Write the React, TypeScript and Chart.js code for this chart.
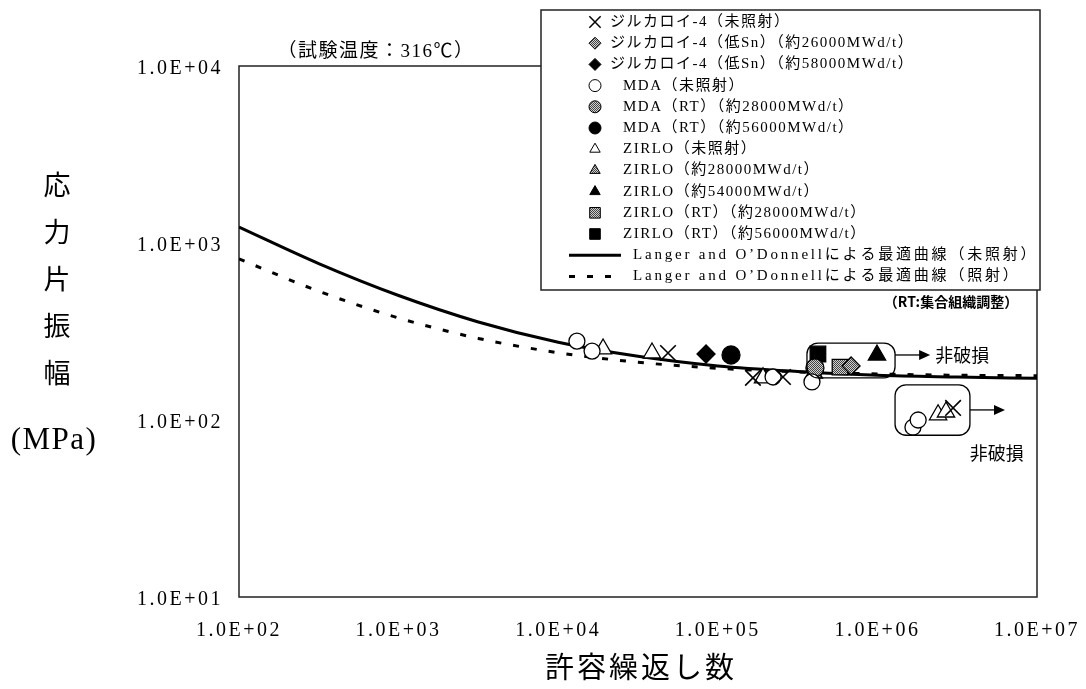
import React, { useEffect, useRef } from 'react';
import { Chart, registerables } from 'chart.js';
import { drawPoint } from 'chart.js/helpers';

Chart.register(...registerables);

// ---- axis ticks ----
const xTickValues = [1e2, 1e3, 1e4, 1e5, 1e6, 1e7];
const yTickValues = [1e1, 1e2, 1e3, 1e4];
const xTickLabels = ['1.0E+02', '1.0E+03', '1.0E+04', '1.0E+05', '1.0E+06', '1.0E+07'];
const yTickLabels = ['1.0E+01', '1.0E+02', '1.0E+03', '1.0E+04'];

// ---- data series (N = allowable cycles, S = stress amplitude MPa) ----
const zr4UnirrN = [48750, 166000, 256000, 2980000];
const zr4UnirrS = [239, 173, 175, 117];
const zr4LowSn26N = [684000];
const zr4LowSn26S = [202];
const zr4LowSn58N = [84400];
const zr4LowSn58S = [236];
const mdaUnirrN = [13100, 16300, 222000, 389000, 1670000, 1800000];
const mdaUnirrS = [279, 245, 175, 164, 91, 100];
const mdaRt28N = [406000];
const mdaRt28S = [197];
const mdaRt56N = [121000];
const mdaRt56S = [233];
const zirloUnirrN = [19100, 38700, 192000, 2400000, 2690000];
const zirloUnirrS = [252, 239, 173, 107, 111];
const zirlo28N = [400000];
const zirlo28S = [184];
const zirlo54N = [994000];
const zirlo54S = [233];
const zirloRt28N = [583000];
const zirloRt28S = [199];
const zirloRt56N = [424000];
const zirloRt56S = [236];

// best-fit curves
const curveN = [1e2, 3.16e2, 1e3, 3.16e3, 1e4, 3.16e4, 1e5, 3.16e5, 1e6, 3.16e6, 1e7];
const curveUnirrS = [1230, 765, 505, 358, 275, 229, 202, 188, 179, 175, 172];
const curveIrrS = [813, 534, 377, 289, 240, 212, 196, 187, 182, 179, 178];

// non-failure annotations (data units)
const nonFailBoxX1 = [362000, 1290000];
const nonFailBoxX2 = [1290000, 3800000];
const nonFailBoxYTop = [272, 158];
const nonFailBoxYBottom = [173, 82];
const nonFailArrowY = [233, 114];
const nonFailArrowTo = [2140000, 6300000];
const nonFailLabelX = [2300000, 5600000];
const nonFailLabelY = [233, 65];
const nonFailLabelAlign: CanvasTextAlign[] = ['left', 'center'];
const nonFailLabel = '非破損';

const titleText = '（試験温度：316℃）';
const yTitleChars = ['応', '力', '片', '振', '幅'];
const yTitleUnit = '(MPa)';
const xTitleText = '許容繰返し数';
const rtNote = '（RT:集合組織調整）';

const zip = (xs: number[], ys: number[]) => xs.map((x, i) => ({ x, y: ys[i] }));

const SERIF = '"Liberation Serif", "Noto Sans CJK JP", serif';
const SANS = '"Noto Sans CJK JP", "Noto Sans", sans-serif';

function makePattern(): CanvasPattern | string {
  const c = document.createElement('canvas');
  c.width = 2;
  c.height = 2;
  const g = c.getContext('2d');
  if (!g) return '#999';
  g.fillStyle = '#d0d0d0';
  g.fillRect(0, 0, 2, 2);
  g.fillStyle = '#444';
  g.fillRect(0, 0, 1, 1);
  g.fillRect(1, 1, 1, 1);
  const p = g.createPattern(c, 'repeat');
  return p || '#999';
}

export default function App() {
  const ref = useRef<HTMLCanvasElement>(null);

  useEffect(() => {
    const canvas = ref.current;
    if (!canvas) return;
    const gray = makePattern();

    const pt = (label: string, data: any[], style: string, fill: any, radius: number, bw = 1.3) => ({
      type: 'scatter' as const,
      label,
      data,
      pointStyle: style,
      pointRadius: radius,
      pointHoverRadius: radius,
      pointBackgroundColor: fill,
      pointBorderColor: '#000',
      pointBorderWidth: bw,
      backgroundColor: fill,
      borderColor: '#000',
      showLine: false,
      order: 1,
    });

    const datasets: any[] = [
      pt('ジルカロイ-4（未照射）', zip(zr4UnirrN, zr4UnirrS), 'crossRot', 'rgba(0,0,0,0)', 11, 1.6),
      pt('ジルカロイ-4（低Sn）（約26000MWd/t）', zip(zr4LowSn26N, zr4LowSn26S), 'rectRot', gray, 9),
      pt('ジルカロイ-4（低Sn）（約58000MWd/t）', zip(zr4LowSn58N, zr4LowSn58S), 'rectRot', '#000', 9),
      pt('MDA（未照射）', zip(mdaUnirrN, mdaUnirrS), 'circle', '#fff', 8),
      pt('MDA（RT）（約28000MWd/t）', zip(mdaRt28N, mdaRt28S), 'circle', gray, 9),
      pt('MDA（RT）（約56000MWd/t）', zip(mdaRt56N, mdaRt56S), 'circle', '#000', 9),
      pt('ZIRLO（未照射）', zip(zirloUnirrN, zirloUnirrS), 'triangle', '#fff', 10),
      pt('ZIRLO（約28000MWd/t）', zip(zirlo28N, zirlo28S), 'triangle', gray, 10),
      pt('ZIRLO（約54000MWd/t）', zip(zirlo54N, zirlo54S), 'triangle', '#000', 10),
      pt('ZIRLO（RT）（約28000MWd/t）', zip(zirloRt28N, zirloRt28S), 'rect', gray, 11),
      pt('ZIRLO（RT）（約56000MWd/t）', zip(zirloRt56N, zirloRt56S), 'rect', '#000', 11),
      {
        type: 'line',
        label: 'Langer and O\u2019Donnellによる最適曲線（未照射）',
        data: zip(curveN, curveUnirrS),
        borderColor: '#000',
        borderWidth: 3,
        pointRadius: 0,
        cubicInterpolationMode: 'monotone',
        fill: false,
        order: 5,
      },
      {
        type: 'line',
        label: 'Langer and O\u2019Donnellによる最適曲線（照射）',
        data: zip(curveN, curveIrrS),
        borderColor: '#000',
        borderWidth: 3,
        borderDash: [6, 12],
        pointRadius: 0,
        cubicInterpolationMode: 'monotone',
        fill: false,
        order: 6,
      },
    ];

    const framePlugin = {
      id: 'frame',
      beforeDraw(chart: any) {
        const ctx = chart.ctx;
        ctx.save();
        ctx.fillStyle = '#fff';
        ctx.fillRect(0, 0, chart.width, chart.height);
        ctx.restore();
        ctx.letterSpacing = '2.5px';
      },
      beforeDatasetsDraw(chart: any) {
        const ctx = chart.ctx;
        ctx.letterSpacing = '0px';
        const a = chart.chartArea;
        ctx.save();
        ctx.strokeStyle = '#222';
        ctx.lineWidth = 1.5;
        ctx.strokeRect(a.left, a.top, a.right - a.left, a.bottom - a.top);
        ctx.restore();
      },
      afterDatasetsDraw(chart: any) {
        const ctx = chart.ctx;
        const xs = chart.scales.x;
        const ys = chart.scales.y;
        ctx.save();
        ctx.strokeStyle = '#000';
        ctx.fillStyle = '#000';
        ctx.lineWidth = 1.3;
        for (let i = 0; i < nonFailBoxX1.length; i++) {
          const x1 = xs.getPixelForValue(nonFailBoxX1[i]);
          const x2 = xs.getPixelForValue(nonFailBoxX2[i]);
          const y1 = ys.getPixelForValue(nonFailBoxYTop[i]);
          const y2 = ys.getPixelForValue(nonFailBoxYBottom[i]);
          ctx.beginPath();
          ctx.roundRect(x1, y1, x2 - x1, y2 - y1, 11);
          ctx.stroke();
          const ay = ys.getPixelForValue(nonFailArrowY[i]);
          const ax2 = xs.getPixelForValue(nonFailArrowTo[i]);
          ctx.beginPath();
          ctx.moveTo(x2, ay);
          ctx.lineTo(ax2 - 8, ay);
          ctx.stroke();
          ctx.beginPath();
          ctx.moveTo(ax2, ay);
          ctx.lineTo(ax2 - 11, ay - 5);
          ctx.lineTo(ax2 - 11, ay + 5);
          ctx.closePath();
          ctx.fill();
          ctx.font = '18px ' + SANS;
          ctx.textAlign = nonFailLabelAlign[i];
          ctx.textBaseline = 'middle';
          ctx.fillText(nonFailLabel, xs.getPixelForValue(nonFailLabelX[i]), ys.getPixelForValue(nonFailLabelY[i]));
        }
        ctx.restore();
      },
      afterDraw(chart: any) {
        const ctx = chart.ctx;
        ctx.save();
        ctx.fillStyle = '#000';
        // title
        ctx.font = '19px ' + SERIF;
        ctx.textAlign = 'center';
        ctx.textBaseline = 'middle';
        ctx.letterSpacing = '1.5px';
        ctx.fillText(titleText, 376, 52);
        // y title
        ctx.letterSpacing = '0px';
        ctx.font = '27px ' + SERIF;
        yTitleChars.forEach((c, i) => ctx.fillText(c, 57, 188 + i * 47));
        ctx.font = '31px ' + SERIF;
        ctx.letterSpacing = '1.5px';
        ctx.fillText(yTitleUnit, 54, 441);
        // x title
        ctx.font = '29px ' + SERIF;
        ctx.letterSpacing = '3px';
        ctx.fillText(xTitleText, 641, 670);
        ctx.letterSpacing = '0px';

        // legend
        const lx = 541, ly = 10, lw = 499, lh = 280;
        ctx.fillStyle = '#fff';
        ctx.fillRect(lx, ly, lw, lh);
        ctx.strokeStyle = '#222';
        ctx.lineWidth = 1.5;
        ctx.strokeRect(lx, ly, lw, lh);
        const ds = chart.data.datasets;
        ctx.textAlign = 'left';
        ctx.textBaseline = 'middle';
        ctx.font = '15px ' + SERIF;
        for (let i = 0; i < ds.length; i++) {
          const d = ds[i];
          const y = 22 + i * 21.2;
          if (d.type === 'line') {
            ctx.save();
            ctx.strokeStyle = '#000';
            ctx.lineWidth = 3;
            ctx.setLineDash(d.borderDash || []);
            ctx.beginPath();
            ctx.moveTo(569, y);
            ctx.lineTo(621, y);
            ctx.stroke();
            ctx.restore();
            ctx.fillStyle = '#000';
            ctx.letterSpacing = '2.8px';
            ctx.fillText(d.label, 633, y);
          } else {
            ctx.save();
            ctx.fillStyle = d.pointBackgroundColor;
            ctx.strokeStyle = '#000';
            ctx.lineWidth = d.pointStyle === 'crossRot' ? 1.5 : 1;
            drawPoint(ctx, { pointStyle: d.pointStyle, radius: d.pointStyle === 'rect' ? 7.5 : d.pointStyle === 'crossRot' ? 8 : 6, rotation: 0, borderWidth: ctx.lineWidth } as any, 595, y);
            ctx.restore();
            ctx.fillStyle = '#000';
            ctx.letterSpacing = '1.5px';
            ctx.fillText(d.label, i < 3 ? 610 : 623, y);
          }
        }
        // RT note
        ctx.letterSpacing = '0px';
        ctx.font = 'bold 14px ' + SANS;
        ctx.textAlign = 'center';
        ctx.fillText(rtNote, 951, 302);
        ctx.restore();
      },
    };

    const chart = new Chart(canvas, {
      type: 'scatter',
      data: { datasets },
      options: {
        responsive: false,
        animation: false,
        events: [],
        layout: { padding: { left: 0, top: 66, right: 49, bottom: 0 } },
        plugins: { legend: { display: false }, tooltip: { enabled: false } },
        scales: {
          x: {
            type: 'logarithmic',
            min: 1e2,
            max: 1e7,
            grid: { display: false },
            border: { display: false },
            afterBuildTicks: (s: any) => { s.ticks = xTickValues.map((v) => ({ value: v })); },
            afterFit: (s: any) => { s.height = 92; s.paddingLeft = 0; s.paddingRight = 0; },
            ticks: {
              color: '#000',
              padding: 14,
              maxRotation: 0,
              autoSkip: false,
              font: { family: SERIF, size: 20 },
              callback: (v: any) => { const i = xTickValues.indexOf(Number(v)); return i >= 0 ? xTickLabels[i] : ''; },
            },
          },
          y: {
            type: 'logarithmic',
            min: 1e1,
            max: 1e4,
            grid: { display: false },
            border: { display: false },
            afterBuildTicks: (s: any) => { s.ticks = yTickValues.map((v) => ({ value: v })); },
            afterFit: (s: any) => { s.width = 239; s.paddingTop = 0; s.paddingBottom = 0; },
            ticks: {
              color: '#000',
              padding: 8,
              labelOffset: 3,
              autoSkip: false,
              font: { family: SERIF, size: 20 },
              callback: (v: any) => { const i = yTickValues.indexOf(Number(v)); return i >= 0 ? yTickLabels[i] : ''; },
            },
          },
        },
      } as any,
      plugins: [framePlugin],
    });
    return () => chart.destroy();
  }, []);

  return (
    <div style={{ position: 'fixed', left: 0, top: 0, width: 1086, height: 689, background: '#fff' }}>
      <canvas ref={ref} width={1086} height={689} style={{ display: 'block' }} />
    </div>
  );
}
